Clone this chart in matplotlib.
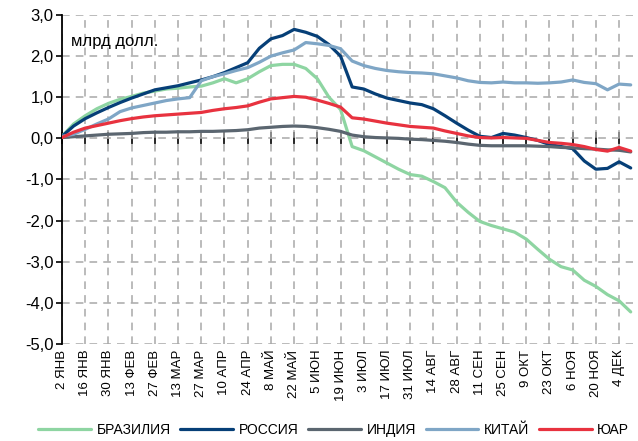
import matplotlib
matplotlib.use("Agg")
import matplotlib.pyplot as plt
from matplotlib import font_manager as fm
import numpy as np

# ---- data (week index from 2 Jan) ----
weeks = list(range(50))
tick_labels = ["2 ЯНВ", "16 ЯНВ", "30 ЯНВ", "13 ФЕВ", "27 ФЕВ", "13 МАР", "27 МАР",
               "10 АПР", "24 АПР", "8 МАЙ", "22 МАЙ", "5 ИЮН", "19 ИЮН", "3 ИЮЛ",
               "17 ИЮЛ", "31 ИЮЛ", "14 АВГ", "28 АВГ", "11 СЕН", "25 СЕН", "9 ОКТ",
               "23 ОКТ", "6 НОЯ", "20 НОЯ", "4 ДЕК"]

brazil = [0.05, 0.35, 0.55, 0.72, 0.85, 0.95, 1.02, 1.10, 1.15, 1.20,
          1.22, 1.25, 1.27, 1.35, 1.45, 1.35, 1.45, 1.62, 1.77, 1.80,
          1.80, 1.70, 1.45, 1.00, 0.70, -0.20, -0.30, -0.45, -0.60, -0.75,
          -0.88, -0.92, -1.05, -1.20, -1.55, -1.80, -2.02, -2.12, -2.20, -2.28,
          -2.45, -2.70, -2.94, -3.12, -3.20, -3.45, -3.60, -3.80, -3.95, -4.22]
russia = [0.05, 0.30, 0.48, 0.62, 0.75, 0.87, 0.98, 1.08, 1.18, 1.23,
          1.28, 1.35, 1.42, 1.50, 1.60, 1.72, 1.84, 2.19, 2.42, 2.50,
          2.65, 2.58, 2.48, 2.28, 2.00, 1.25, 1.20, 1.08, 0.98, 0.92,
          0.86, 0.82, 0.72, 0.55, 0.37, 0.20, 0.05, 0.02, 0.12, 0.08,
          0.02, -0.05, -0.15, -0.20, -0.25, -0.55, -0.75, -0.73, -0.57, -0.72]
india = [0.02, 0.04, 0.06, 0.08, 0.10, 0.11, 0.12, 0.14, 0.15, 0.15,
         0.16, 0.16, 0.17, 0.17, 0.18, 0.19, 0.21, 0.25, 0.27, 0.29,
         0.30, 0.29, 0.26, 0.22, 0.17, 0.08, 0.04, 0.02, 0.01, 0.00,
         -0.02, -0.03, -0.05, -0.07, -0.10, -0.14, -0.17, -0.18, -0.18, -0.18,
         -0.18, -0.19, -0.20, -0.22, -0.23, -0.25, -0.26, -0.28, -0.29, -0.33]
china = [0.05, 0.10, 0.22, 0.35, 0.47, 0.65, 0.74, 0.80, 0.86, 0.92,
         0.96, 0.99, 1.40, 1.50, 1.57, 1.65, 1.72, 1.85, 2.00, 2.08,
         2.15, 2.33, 2.30, 2.26, 2.18, 1.88, 1.77, 1.70, 1.65, 1.62,
         1.60, 1.59, 1.57, 1.52, 1.47, 1.40, 1.36, 1.35, 1.37, 1.35,
         1.35, 1.34, 1.35, 1.37, 1.42, 1.36, 1.33, 1.18, 1.32, 1.30]
sar = [0.02, 0.15, 0.25, 0.31, 0.37, 0.43, 0.48, 0.52, 0.55, 0.57,
       0.59, 0.61, 0.63, 0.68, 0.72, 0.75, 0.79, 0.88, 0.96, 0.99,
       1.02, 1.00, 0.93, 0.85, 0.76, 0.50, 0.47, 0.42, 0.37, 0.33,
       0.29, 0.27, 0.25, 0.18, 0.12, 0.06, 0.02, 0.01, 0.02, 0.01,
       0.00, -0.05, -0.10, -0.12, -0.15, -0.20, -0.27, -0.31, -0.22, -0.31]

series_names = ["БРАЗИЛИЯ", "РОССИЯ", "ИНДИЯ", "КИТАЙ", "ЮАР"]
series_colors = ["#8ed5a2", "#063f77", "#5b6670", "#7fa6c6", "#e8323f"]
yticks = [-5, -4, -3, -2, -1, 0, 1, 2, 3]

names = {f.name for f in fm.fontManager.ttflist}
fam = ["Liberation Sans Narrow", "Liberation Sans", "DejaVu Sans"]
fam = [f for f in fam if f in names] + ["DejaVu Sans"]
plt.rcParams["font.family"] = fam

fig = plt.figure(figsize=(6.38, 4.41), dpi=100)
ax = fig.add_axes([0.0972, 0.22, 0.895, 0.746])

for vals, name, col in zip([brazil, russia, india, china, sar], series_names, series_colors):
    ax.plot(weeks[:len(vals)], vals, color=col, lw=2.3, label=name,
            solid_capstyle="round", solid_joinstyle="round", zorder=3)

tick_pos = list(range(0, 2 * len(tick_labels), 2))
ax.set_xlim(0, 49.2)
ax.set_ylim(-5, 3)
ax.set_yticks(yticks)
ax.set_yticklabels([f"{v:.1f}".replace(".", ",") for v in yticks], fontsize=12)
ax.set_xticks(tick_pos)
ax.set_xticklabels(tick_labels, rotation=90, fontsize=9.5)
ax.tick_params(axis="x", length=0, pad=4)
ax.tick_params(axis="y", length=4, width=1.2, direction="out", pad=2)

for s in ["top", "right", "bottom"]:
    ax.spines[s].set_visible(False)
ax.spines["left"].set_linewidth(1.3)
ax.spines["left"].set_color("black")

ax.grid(True, color="#a8a8a8", lw=1.1, ls=(0, (5, 4)), zorder=0)
ax.set_axisbelow(True)

# zero axis with crossing ticks
sec = ax.secondary_xaxis(5 / 8)
sec.set_xticks(tick_pos)
sec.set_xticklabels([])
sec.tick_params(direction="inout", length=8, width=1.2, color="black")
sec.spines["bottom"].set_linewidth(1.3)
sec.spines["bottom"].set_color("black")
sec.spines["top"].set_visible(False)

ax.text(0.015, 0.92, "млрд долл.", transform=ax.transAxes, fontsize=12, va="center", ha="left")

fig.legend(loc="lower center", bbox_to_anchor=(0.523, -0.02), ncol=5, frameon=False,
           fontsize=10, handlelength=3.8, handletextpad=0.4, columnspacing=0.7)

fig.savefig("out.png", dpi=100)
